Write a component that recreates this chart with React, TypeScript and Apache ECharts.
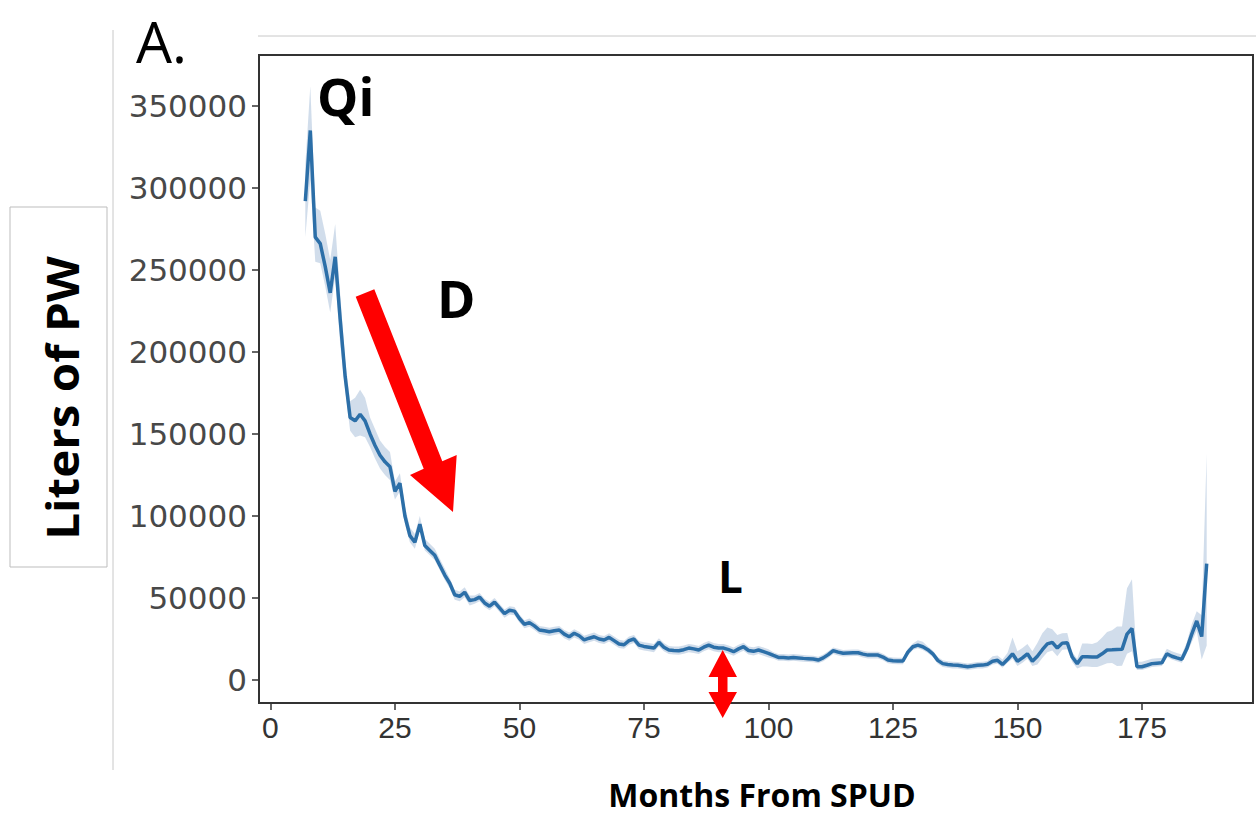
import React, { useEffect, useRef } from "react";
import * as echarts from "echarts";

// Months from SPUD start at month 7 and run consecutively (one point per month)
const FIRST_MONTH = 7;
const UNIT = 1000; // values below are in thousands of liters

// Mean liters of produced water per month (thousands)
const values = [
  292, 335, 270, 266, 252, 236, 258, 220, 185, 160,
  158, 162, 158, 150, 143, 137, 133, 130, 115, 120,
  100, 88, 84, 95, 82, 79, 76, 70, 64, 59,
  52, 51, 53.5, 48.5, 49, 50.5, 47, 45, 47.5, 44,
  40.5, 42.5, 42, 37.5, 34, 35, 33, 30.5, 30, 29.4,
  30, 30.5, 28, 26.4, 28.5, 27, 24.5, 25.5, 26.4, 25,
  24.4, 26, 24, 22, 21.5, 24, 25, 21.3, 20.5, 20,
  19.5, 23, 20, 18.3, 18, 17.9, 18.5, 19.5, 19, 18.3,
  20, 21.3, 20, 19.5, 19.5, 18.5, 17.3, 19, 20.3, 18,
  17.5, 18.3, 17.3, 16.3, 15, 13.8, 13.8, 13.5, 13.8, 13.5,
  13.2, 13, 12.8, 12.2, 13.5, 15.5, 17.9, 17, 16.3, 16.5,
  16.6, 16.6, 15.8, 15.2, 15.2, 15.2, 14, 12.2, 11.8, 11.6,
  11.6, 17, 20.3, 21.3, 20.3, 18.5, 16, 12, 10, 9.5,
  9.1, 9, 8.5, 8.1, 8.5, 9, 9.1, 9.6, 11.5, 12,
  9.5, 12.5, 16, 11.5, 13.5, 16, 11.5, 14.5, 18.5, 22,
  23, 19.5, 22.5, 22.7, 14, 10, 14.2, 14.2, 14, 14,
  16, 18.3, 18.4, 18.6, 18.7, 28, 31.5, 8.1, 8.1, 9,
  10, 10.3, 10.5, 16, 14.5, 13.5, 12.6, 19, 28, 36,
  26.5, 71,
];

// Confidence band: distance above the mean (thousands)
const ciPlus = [
  22, 27, 18, 20, 20, 20, 20, 15, 10, 10,
  14, 15, 14, 10, 10, 9, 9, 9, 6, 6,
  6, 5, 5, 5, 4, 4, 4, 4, 4, 3,
  3, 3, 3, 3, 2.5, 2.5, 2.5, 2.5, 2.5, 2.5,
  2.5, 2.5, 2.5, 2.5, 2.5, 2.5, 2.5, 2.5, 2.5, 2.5,
  2.5, 2.5, 2.5, 2.5, 2.5, 2.5, 2.5, 2.5, 2.5, 2.5,
  2.5, 2.5, 2.5, 2.5, 2.5, 2.5, 2.5, 2.5, 2.5, 2.5,
  2.5, 2.5, 2.5, 2.5, 2.5, 2.5, 2.5, 2.5, 2.5, 2.5,
  2.5, 2.5, 2.5, 2.5, 2.5, 2.5, 2.5, 2.5, 2.5, 2.5,
  2.5, 2.5, 2.5, 2.5, 2, 2, 2, 2, 2, 2,
  2, 2, 2, 2, 2, 2, 2, 2, 2, 2,
  2, 2, 2, 2, 2, 2, 2, 2, 2, 2,
  2, 2, 2, 3, 3, 2, 2, 2, 2, 2,
  2, 2, 2, 2, 2, 2, 2, 2, 3, 3,
  3, 4, 10, 6, 6, 6, 6, 8, 10, 10,
  8, 8, 6, 6, 3, 3, 8, 8, 8, 9,
  10, 11, 12, 14, 14, 28, 30, 3, 3, 3,
  3, 3, 3, 3, 3, 3, 3, 4, 6, 6,
  13, 67,
];

// Confidence band: distance below the mean (thousands)
const ciMinus = [
  22, 30, 15, 12, 12, 12, 12, 15, 8, 8,
  10, 13, 10, 8, 8, 8, 8, 8, 5, 5,
  5, 4, 4, 4, 3, 3, 3, 3, 3, 3,
  3, 3, 3, 3, 2.5, 2.5, 2.5, 2.5, 2.5, 2.5,
  2.5, 2.5, 2.5, 2.5, 2.5, 2.5, 2.5, 2.5, 2.5, 2.5,
  2.5, 2.5, 2.5, 2.5, 2.5, 2.5, 2.5, 2.5, 2.5, 2.5,
  2.5, 2.5, 2.5, 2.5, 2.5, 2.5, 2.5, 2.5, 2.5, 2.5,
  2.5, 2.5, 2.5, 2.5, 2.5, 2.5, 2.5, 2.5, 2.5, 2.5,
  2.5, 2.5, 2.5, 2.5, 2.5, 2.5, 2.5, 2.5, 2.5, 2.5,
  2.5, 2.5, 2.5, 2.5, 2, 2, 2, 2, 2, 2,
  2, 2, 2, 2, 2, 2, 2, 2, 2, 2,
  2, 2, 2, 2, 2, 2, 2, 2, 2, 2,
  2, 2, 2, 2, 2, 2, 2, 2, 2, 2,
  2, 2, 2, 2, 2, 2, 2, 2, 2, 2,
  2, 2, 3, 3, 3, 3, 3, 5, 5, 5,
  5, 5, 4, 4, 3, 3, 6, 6, 6, 6,
  7, 8, 8, 10, 10, 12, 14, 2, 2, 2,
  2, 2, 2, 2, 2, 2, 2, 3, 5, 6,
  14, 50,
];

const xTicks = [0, 25, 50, 75, 100, 125, 150, 175];
const yTicks = [0, 50000, 100000, 150000, 200000, 250000, 300000, 350000];

export default function App() {
  const ref = useRef<HTMLDivElement>(null);

  useEffect(() => {
    if (!ref.current) return;
    const chart = echarts.init(ref.current, null, { renderer: "svg" });
    const months = values.map((_, i) => FIRST_MONTH + i);
    const meanData = months.map((m, i) => [m, values[i] * UNIT]);
    const upperData = months.map((m, i) => [m, (values[i] + ciPlus[i]) * UNIT]);
    const lowerData = months.map((m, i) => [m, (values[i] - ciMinus[i]) * UNIT]);

    const axisColor = "#333";

    chart.setOption({
      animation: false,
      backgroundColor: "#ffffff",
      grid: {
        left: 259,
        top: 55,
        width: 994,
        height: 648,
        show: true,
        borderColor: axisColor,
        borderWidth: 2,
        backgroundColor: "transparent",
      },
      xAxis: {
        type: "value",
        min: -2.3,
        max: 197.3,
        splitLine: { show: false },
        axisLine: { show: true, onZero: false, lineStyle: { color: axisColor, width: 2 } },
        axisTick: {
          show: true,
          customValues: xTicks,
          length: 7,
          lineStyle: { color: axisColor, width: 1.5 },
        },
        axisLabel: {
          customValues: xTicks,
          margin: 9,
          fontSize: 30,
          fontFamily: "Liberation Sans",
          color: "#333",
          formatter: (v: number) => String(v),
        },
      },
      yAxis: {
        type: "value",
        min: -14000,
        max: 381000,
        splitLine: { show: false },
        axisLine: { show: true, onZero: false, lineStyle: { color: axisColor, width: 2 } },
        axisTick: {
          show: true,
          customValues: yTicks,
          length: 7,
          lineStyle: { color: axisColor, width: 1.5 },
        },
        axisLabel: {
          customValues: yTicks,
          margin: 12,
          fontSize: 31,
          fontFamily: "DejaVu Sans",
          color: "#484848",
          formatter: (v: number) => String(v),
        },
      },
      series: [
        {
          name: "ci",
          type: "custom",
          data: [[months[0], 0]],
          silent: true,
          z: 1,
          renderItem: (_params: any, api: any) => {
            const pts: number[][] = [];
            for (let i = 0; i < upperData.length; i++) pts.push(api.coord(upperData[i]));
            for (let i = lowerData.length - 1; i >= 0; i--) pts.push(api.coord(lowerData[i]));
            return {
              type: "polygon",
              shape: { points: pts },
              style: { fill: "rgba(70,120,175,0.25)", stroke: "none" },
            };
          },
        },
        {
          name: "mean",
          type: "line",
          data: meanData,
          symbol: "none",
          lineStyle: { color: "#2c6fa8", width: 3.5 },
          z: 3,
        },
      ],
      graphic: [
        {
          type: "line",
          shape: { x1: 258, y1: 36, x2: 1256, y2: 36 },
          style: { stroke: "#c8c8c8", lineWidth: 1 },
        },
        {
          type: "line",
          shape: { x1: 113, y1: 30, x2: 113, y2: 770 },
          style: { stroke: "#c8c8c8", lineWidth: 1 },
        },
        {
          type: "rect",
          shape: { x: 10, y: 207, width: 97, height: 360 },
          style: { fill: "none", stroke: "#bdbdbd", lineWidth: 1 },
        },
        {
          type: "text",
          x: 62,
          y: 398,
          rotation: Math.PI / 2,
          scaleX: 1.08,
          style: {
            text: "Liters of PW",
            fontSize: 44,
            lineHeight: 44,
            fontWeight: "bold",
            fontFamily: "Open Sans",
            fill: "#000",
            align: "center",
            verticalAlign: "middle",
          },
        },
        {
          type: "text",
          x: 762,
          y: 794,
          style: {
            text: "Months From SPUD",
            fontSize: 32,
            lineHeight: 32,
            fontWeight: "bold",
            fontFamily: "Open Sans",
            fill: "#000",
            align: "center",
            verticalAlign: "middle",
          },
        },
        {
          type: "text",
          x: 136,
          y: 41,
          style: {
            text: "A.",
            fontSize: 57,
            lineHeight: 57,
            fontFamily: "Open Sans",
            fill: "#000",
            align: "left",
            verticalAlign: "middle",
          },
        },
        {
          type: "text",
          x: 317,
          y: 95,
          style: {
            text: "Qi",
            fontSize: 52,
            fontWeight: "bold",
            fontFamily: "Open Sans",
            fill: "#000",
            align: "left",
            verticalAlign: "middle",
          },
        },
        {
          type: "text",
          x: 437,
          y: 297,
          style: {
            text: "D",
            fontSize: 52,
            fontWeight: "bold",
            fontFamily: "Open Sans",
            fill: "#000",
            align: "left",
            verticalAlign: "middle",
          },
        },
        {
          type: "text",
          x: 718,
          y: 576,
          style: {
            text: "L",
            fontSize: 44,
            fontWeight: "bold",
            fontFamily: "Open Sans",
            fill: "#000",
            align: "left",
            verticalAlign: "middle",
          },
        },
        {
          type: "polygon",
          shape: {
            points: [
              [355.7, 296.8],
              [374.3, 289.2],
              [442.3, 461.2],
              [456.7, 455],
              [453, 512],
              [410, 475],
              [423.7, 468.8],
            ],
          },
          style: { fill: "#ff0000" },
          z: 10,
        },
        {
          type: "polygon",
          shape: {
            points: [
              [722.7, 650],
              [737, 677],
              [727.5, 677],
              [727.5, 692],
              [737, 692],
              [722.7, 718],
              [708.5, 692],
              [718, 692],
              [718, 677],
              [708.5, 677],
            ],
          },
          style: { fill: "#ff0000" },
          z: 10,
        },
      ],
    });

    return () => {
      chart.dispose();
    };
  }, []);

  return (
    <div
      ref={ref}
      style={{ position: "absolute", left: 0, top: 0, width: 1256, height: 815 }}
    />
  );
}
